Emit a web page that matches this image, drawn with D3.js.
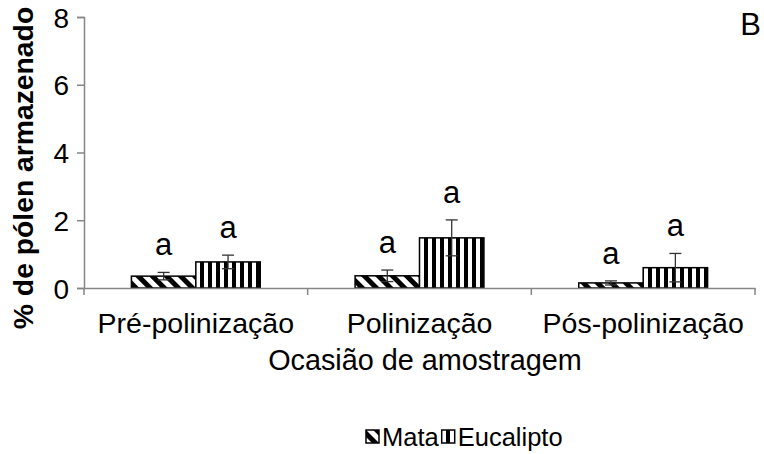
<!DOCTYPE html>
<html>
<head>
<meta charset="utf-8">
<script src="https://cdn.jsdelivr.net/npm/d3@7"></script>
<style>
  body { margin: 0; background: #fff; }
  text { font-family: "Liberation Sans", Arial, sans-serif; fill: #000; }
</style>
</head>
<body>
<div id="chart"></div>
<script>
// dados
var categorias = ["Pré-polinização", "Polinização", "Pós-polinização"];
var series = ["Mata", "Eucalipto"];
var valoresMata = [0.35, 0.36, 0.15];
var valoresEucalipto = [0.77, 1.48, 0.60];
var erroMata = [0.11, 0.17, 0.06];
var erroEucalipto = [0.20, 0.53, 0.42];
var letrasMata = ["a", "a", "a"];
var letrasEucalipto = ["a", "a", "a"];
var yTicks = [0, 2, 4, 6, 8];

var width = 764, height = 454;
var margin = {top: 17, right: 9, bottom: 166, left: 84};

var svg = d3.select("#chart").append("svg")
  .attr("width", width)
  .attr("height", height);

// padrões de preenchimento
var defs = svg.append("defs");
var pMata = defs.append("pattern")
  .attr("id", "pMata")
  .attr("patternUnits", "userSpaceOnUse")
  .attr("width", 10).attr("height", 10)
  .attr("patternTransform", "rotate(-45)");
pMata.append("rect").attr("width", 10).attr("height", 10).attr("fill", "#fff");
pMata.append("rect").attr("x", 0).attr("width", 5).attr("height", 10).attr("fill", "#000");

var pEuc = defs.append("pattern")
  .attr("id", "pEuc")
  .attr("patternUnits", "userSpaceOnUse")
  .attr("width", 8).attr("height", 8);
pEuc.append("rect").attr("width", 8).attr("height", 8).attr("fill", "#fff");
pEuc.append("rect").attr("x", 0).attr("width", 4).attr("height", 8).attr("fill", "#000");

var fills = {Mata: "url(#pMata)", Eucalipto: "url(#pEuc)"};

var x = d3.scaleBand()
  .domain(categorias)
  .range([margin.left, width - margin.right])
  .padding(0);

var xs = d3.scaleBand()
  .domain(series)
  .range([0, x.bandwidth()])
  .paddingInner(0)
  .paddingOuter(0.736);

var y = d3.scaleLinear()
  .domain([0, 8])
  .range([height - margin.bottom, margin.top]);

var axisColor = "#868686";

// eixo y
var gy = svg.append("g")
  .attr("transform", "translate(" + margin.left + ",0)")
  .call(d3.axisLeft(y).tickValues(yTicks).tickSize(7).tickPadding(8).tickFormat(d3.format("d")));
gy.select(".domain").attr("stroke", axisColor).attr("stroke-width", 1.5);
gy.selectAll(".tick line").attr("stroke", axisColor).attr("stroke-width", 1.5);
gy.selectAll(".tick text").style("font-size", "28px").attr("dy", "0.36em");

// dados agrupados
var dados = categorias.map(function(c, i) {
  return [
    {cat: c, serie: "Mata", v: valoresMata[i], e: erroMata[i], letra: letrasMata[i]},
    {cat: c, serie: "Eucalipto", v: valoresEucalipto[i], e: erroEucalipto[i], letra: letrasEucalipto[i]}
  ];
});
var planos = dados.flat();

// barras
svg.append("g").selectAll("rect").data(planos).enter().append("rect")
  .attr("x", function(d) { return x(d.cat) + xs(d.serie); })
  .attr("width", xs.bandwidth())
  .attr("y", function(d) { return y(d.v); })
  .attr("height", function(d) { return y(0) - y(d.v); })
  .attr("fill", function(d) { return fills[d.serie]; })
  .attr("stroke", "#000")
  .attr("stroke-width", 1.5);

// barras de erro
var ge = svg.append("g").attr("stroke", "#333").attr("stroke-width", 1.3);
planos.forEach(function(d) {
  var cx = x(d.cat) + xs(d.serie) + xs.bandwidth() / 2;
  var top = y(d.v + d.e), bot = y(Math.max(0, d.v - d.e));
  ge.append("line").attr("x1", cx).attr("x2", cx).attr("y1", top).attr("y2", bot);
  ge.append("line").attr("x1", cx - 6).attr("x2", cx + 6).attr("y1", top).attr("y2", top);
  ge.append("line").attr("x1", cx - 6).attr("x2", cx + 6).attr("y1", bot).attr("y2", bot);
});

// letras
svg.append("g").selectAll("text").data(planos).enter().append("text")
  .attr("x", function(d) { return x(d.cat) + xs(d.serie) + xs.bandwidth() / 2; })
  .attr("y", function(d) { return y(d.v + d.e) - 17; })
  .attr("text-anchor", "middle")
  .style("font-size", "31px")
  .text(function(d) { return d.letra; });

// eixo x
var gx = svg.append("g")
  .attr("transform", "translate(0," + y(0) + ")")
  .call(d3.axisBottom(x).tickSize(0).tickPadding(25));
gx.select(".domain").attr("stroke", axisColor).attr("stroke-width", 1.5);
gx.selectAll(".tick text").style("font-size", "28.5px").attr("dy", "0.71em");
// marcas entre categorias
var bordas = categorias.map(function(c) { return x(c); }).concat([x.range()[1]]);
gx.selectAll(".sep").data(bordas).enter().append("line")
  .attr("x1", function(d) { return d; }).attr("x2", function(d) { return d; })
  .attr("y1", 0).attr("y2", 7)
  .attr("stroke", axisColor).attr("stroke-width", 1.5);

// títulos
svg.append("text")
  .attr("x", 425)
  .attr("y", 370)
  .attr("text-anchor", "middle")
  .style("font-size", "28.8px")
  .text("Ocasião de amostragem");

svg.append("text")
  .attr("transform", "translate(33,168) rotate(-90)")
  .attr("text-anchor", "middle")
  .style("font-size", "28.3px")
  .style("font-weight", "bold")
  .text("% de pólen armazenado");

svg.append("text")
  .attr("x", 761)
  .attr("y", 35)
  .attr("text-anchor", "end")
  .style("font-size", "31px")
  .text("B");

// legenda
var lg = svg.append("g").attr("transform", "translate(366,437)");
var lx = 0;
series.forEach(function(s) {
  lg.append("rect").attr("x", lx).attr("y", -7).attr("width", 13).attr("height", 13)
    .attr("fill", fills[s]).attr("stroke", "#000").attr("stroke-width", 1.5);
  var t = lg.append("text").attr("x", lx + 16).attr("y", 9).style("font-size", "25.5px").text(s);
  lx += 16 + t.node().getComputedTextLength() + 3;
});
</script>
</body>
</html>
